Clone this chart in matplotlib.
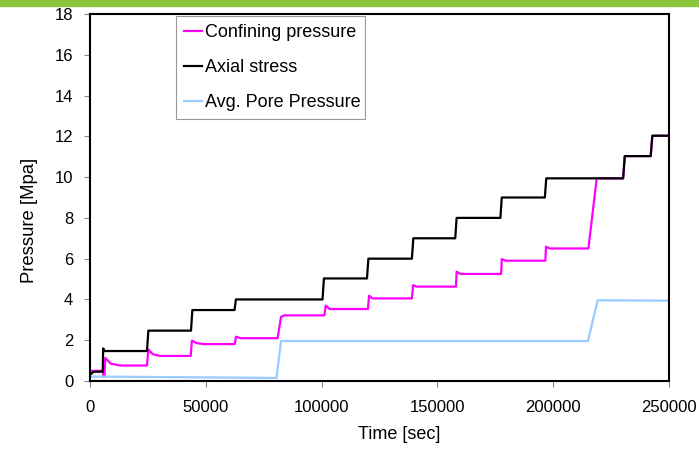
import matplotlib
matplotlib.use("Agg")
import matplotlib.pyplot as plt
from matplotlib.patches import Rectangle

plt.rcParams['font.family'] = ['Liberation Sans', 'DejaVu Sans']

# confining pressure (magenta)
conf_t = [0, 5500, 5800, 6200, 6600, 9000, 13000, 24600, 25200, 27000, 30200,
          43500, 44000, 46000, 49000, 62500, 63000, 65000, 81000, 82500, 84000,
          101200, 101800, 103500, 120000, 120500, 122000, 139000, 139500, 141000,
          158000, 158300, 160000, 177500, 177800, 179500, 196600, 196900, 198500,
          215200, 218800, 230200, 230900, 242100, 242800, 250000]
conf_v = [0.5, 0.5, 0.2, 0.2, 1.13, 0.85, 0.76, 0.76, 1.55, 1.32, 1.23,
          1.23, 1.98, 1.86, 1.81, 1.81, 2.17, 2.1, 2.1, 3.15, 3.22,
          3.22, 3.7, 3.53, 3.53, 4.18, 4.05, 4.05, 4.7, 4.63,
          4.63, 5.36, 5.25, 5.25, 5.98, 5.9, 5.9, 6.59, 6.5,
          6.5, 9.94, 9.94, 11.03, 11.03, 12.03, 12.03]

# axial stress (black)
axial_t = [0, 1500, 5500, 5700, 6200, 24600, 25200, 43600, 44200, 62400, 63000,
           100400, 101000, 119600, 120200, 139000, 139600, 157700, 158300,
           177200, 177800, 196400, 197000, 230200, 230900, 242100, 242800, 250000]
axial_v = [0.3, 0.45, 0.46, 1.6, 1.47, 1.47, 2.47, 2.47, 3.48, 3.48, 4.0,
           4.0, 5.03, 5.03, 6.0, 6.0, 7.0, 7.0, 8.0,
           8.0, 9.0, 9.0, 9.94, 9.94, 11.03, 11.03, 12.03, 12.03]

# avg pore pressure (light blue)
pore_t = [0, 80500, 82500, 215000, 219200, 250000]
pore_v = [0.22, 0.15, 1.96, 1.96, 3.96, 3.94]

x_ticks = [0, 50000, 100000, 150000, 200000, 250000]
y_ticks = [0, 2, 4, 6, 8, 10, 12, 14, 16, 18]

fig = plt.figure(figsize=(6.99, 4.5), dpi=100)
fig.patches.append(Rectangle((0, 1 - 6/450), 1, 6/450, transform=fig.transFigure,
                             color='#8CC63F', zorder=0))
ax = fig.add_axes([90/699, 69/450, 579/699, 367/450])

ax.plot(conf_t, conf_v, color='#FF00FF', lw=1.6, label='Confining pressure')
ax.plot(axial_t, axial_v, color='black', lw=1.6, label='Axial stress')
ax.plot(pore_t, pore_v, color='#99CCFF', lw=1.6, label='Avg. Pore Pressure')

ax.set_xlim(0, 250000)
ax.set_ylim(0, 18)
ax.set_xticks(x_ticks)
ax.set_yticks(y_ticks)
ax.tick_params(axis='x', length=4, color='#888888', pad=10, labelsize=12)
ax.tick_params(axis='y', length=4, color='#888888', pad=8, labelsize=12)
for s in ax.spines.values():
    s.set_linewidth(1.5)
    s.set_color('black')

ax.set_ylabel('Pressure [Mpa]', fontsize=13.3)
ax.yaxis.set_label_coords(-0.089, 0.439)
ax.set_xlabel('Time [sec]', fontsize=13)
ax.xaxis.set_label_coords(0.534, -0.1226)

leg = ax.legend(loc='upper left', bbox_to_anchor=(0.1485, 0.717, 0.3265, 0.278),
                mode='expand', borderaxespad=0, fontsize=13, fancybox=False,
                edgecolor='#999999', framealpha=1, handlelength=1.0,
                handletextpad=0.15, labelspacing=1.0, borderpad=0.45)
leg.get_frame().set_linewidth(0.8)

fig.savefig('out.png', dpi=100)
